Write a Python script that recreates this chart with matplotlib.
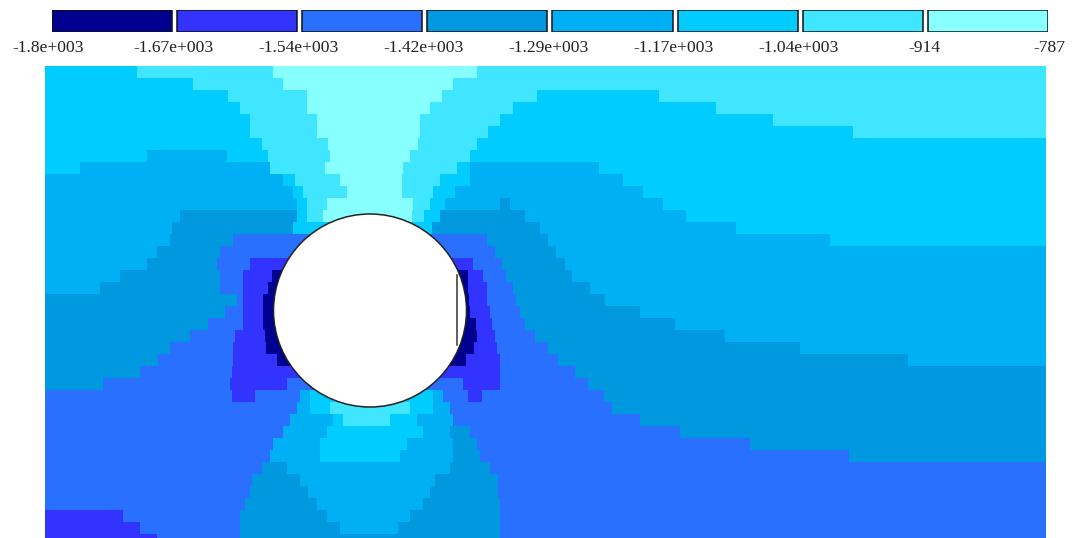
import numpy as np
import matplotlib
matplotlib.use("Agg")
import matplotlib.pyplot as plt
from matplotlib.colors import ListedColormap, BoundaryNorm
from matplotlib.patches import Circle

# Contour levels and the labels printed under the legend boxes
levels = [-1800, -1670, -1540, -1420, -1290, -1170, -1040, -914, -787]
level_labels = ["-1.8e+003", "-1.67e+003", "-1.54e+003", "-1.42e+003", "-1.29e+003",
                "-1.17e+003", "-1.04e+003", "-914", "-787"]
band_colors = ["#000090", "#3333ff", "#2a70ff", "#0099e0", "#00b0f5", "#00ccff", "#40e5ff", "#88ffff"]

# Band, one row per 12 px: (band, x where the band stops)
y_top = 66
row_height = 12
x_left = 45
x_right = 1046
field_rows = [
    [(5, 137), (6, 273), (7, 477), (6, 1046)],
    [(5, 193), (6, 283), (7, 453), (6, 1046)],
    [(5, 228), (6, 307), (7, 442), (6, 537), (5, 659), (6, 1046)],
    [(5, 240), (6, 307), (7, 430), (6, 513), (5, 716), (6, 1046)],
    [(5, 250), (6, 317), (7, 420), (6, 500), (5, 773), (6, 1046)],
    [(5, 250), (6, 317), (7, 420), (6, 488), (5, 853), (6, 1046)],
    [(5, 262), (6, 328), (7, 418), (6, 477), (5, 1046)],
    [(5, 147), (4, 227), (5, 268), (6, 330), (7, 410), (6, 470), (5, 1046)],
    [(5, 80), (4, 270), (6, 325), (7, 403), (6, 457), (5, 470), (4, 599), (5, 1046)],
    [(4, 283), (5, 295), (6, 340), (7, 402), (6, 440), (5, 470), (4, 623), (5, 1046)],
    [(4, 293), (5, 303), (6, 347), (7, 402), (6, 433), (5, 455), (4, 643), (5, 1046)],
    [(4, 297), (5, 307), (6, 327), (7, 413), (6, 430), (5, 445), (4, 500), (3, 510), (4, 663), (5, 1046)],
    [(4, 180), (3, 297), (5, 307), (6, 323), (7, 412), (6, 424), (5, 440), (3, 525), (4, 686), (5, 1046)],
    [(4, 172), (3, 293), (5, 308), (5, 432), (3, 540), (4, 736), (5, 1046)],
    [(4, 170), (3, 233), (2, 487), (3, 548), (4, 830), (5, 1046)],
    [(4, 157), (3, 220), (2, 495), (3, 556), (4, 1046)],
    [(4, 147), (3, 217), (2, 250), (1, 473), (2, 502), (3, 565), (4, 1046)],
    [(4, 120), (3, 220), (2, 243), (1, 272), (0, 468), (1, 483), (2, 506), (3, 572), (4, 1046)],
    [(4, 100), (3, 220), (2, 243), (1, 268), (0, 468), (1, 487), (2, 513), (3, 590), (4, 1046)],
    [(3, 237), (2, 243), (1, 263), (0, 469), (1, 487), (2, 516), (3, 605), (4, 1046)],
    [(3, 225), (2, 243), (1, 263), (0, 470), (1, 490), (2, 520), (3, 640), (4, 1046)],
    [(3, 208), (2, 243), (1, 263), (0, 476), (1, 492), (2, 525), (3, 675), (4, 1046)],
    [(3, 190), (2, 235), (1, 265), (0, 477), (1, 495), (2, 535), (3, 725), (4, 1046)],
    [(3, 170), (2, 233), (1, 266), (0, 474), (1, 497), (2, 548), (3, 800), (4, 1046)],
    [(3, 158), (2, 233), (1, 277), (0, 466), (1, 500), (2, 558), (3, 908), (4, 1046)],
    [(3, 140), (2, 232), (1, 500), (2, 575), (3, 1046)],
    [(3, 103), (2, 230), (1, 287), (2, 463), (1, 500), (2, 588), (3, 1046)],
    [(2, 232), (1, 255), (2, 300), (4, 310), (5, 433), (4, 443), (2, 468), (1, 482), (2, 604), (3, 1046)],
    [(2, 297), (4, 310), (5, 330), (6, 410), (5, 433), (4, 450), (2, 612), (3, 1046)],
    [(2, 290), (4, 333), (5, 343), (6, 390), (5, 417), (4, 453), (2, 640), (3, 1046)],
    [(2, 283), (4, 327), (5, 423), (4, 450), (3, 470), (2, 680), (3, 1046)],
    [(2, 273), (4, 320), (5, 407), (4, 453), (3, 477), (2, 750), (3, 1046)],
    [(2, 270), (4, 320), (5, 400), (4, 453), (3, 480), (2, 849), (3, 1046)],
    [(2, 262), (3, 287), (4, 450), (3, 490), (2, 1046)],
    [(2, 252), (3, 300), (4, 435), (3, 498), (2, 1046)],
    [(2, 250), (3, 308), (4, 430), (3, 498), (2, 1046)],
    [(2, 245), (3, 317), (4, 423), (3, 500), (2, 1046)],
    [(1, 123), (2, 240), (3, 327), (4, 410), (3, 500), (2, 1046)],
    [(1, 140), (2, 240), (3, 340), (4, 398), (3, 500), (2, 1046)],
    [(1, 157), (2, 240), (3, 500), (2, 1046)],
]

plt.rcParams["font.family"] = ["Liberation Serif", "DejaVu Serif"]

cmap = ListedColormap(band_colors)
norm = BoundaryNorm(levels, cmap.N)
mids = (np.array(levels[:-1]) + np.array(levels[1:])) / 2

# Fill the field on a 1 px column grid from the row runs
x_edges = np.arange(x_left, x_right + 1)
y_edges = np.minimum(y_top + row_height * np.arange(len(field_rows) + 1), 538)
x_mid = (x_edges[:-1] + x_edges[1:]) / 2
field = np.zeros((len(field_rows), len(x_mid)))
for i, row in enumerate(field_rows):
    bands = np.array([r[0] for r in row])
    ends = np.array([r[1] for r in row])
    idx = np.searchsorted(ends, x_mid).clip(0, len(row) - 1)
    field[i] = mids[bands[idx]]

fig = plt.figure(figsize=(10.76, 5.38), dpi=100)
ax = fig.add_axes([0, 0, 1, 1])
ax.pcolormesh(x_edges, y_edges, field, cmap=cmap, norm=norm)
ax.add_patch(Circle((370, 310.5), 96.5, facecolor="white", edgecolor="#222222", linewidth=1.1))
ax.plot([457, 457], [275, 345], color="#333333", linewidth=1.1)
ax.set_xlim(0, 1076)
ax.set_ylim(538, 0)
ax.axis("off")

# Legend boxes on their own axes, labels at the level boundaries
leg = fig.add_axes([51.7 / 1076, 1 - 32.5 / 538, 996.3 / 1076, 22.5 / 538])
leg.bar(np.arange(8), np.ones(8), width=0.96, align="edge", color=band_colors,
        edgecolor="#111111", linewidth=1.1)
leg.set_xlim(0, 7.96)
leg.set_ylim(0, 1)
leg.axis("off")
for i, lab in enumerate(level_labels):
    leg.text(i - 0.03, -0.68, lab, ha="center", va="center", fontsize=12.6, color="#222222", clip_on=False)

fig.savefig("out.png", dpi=100)
